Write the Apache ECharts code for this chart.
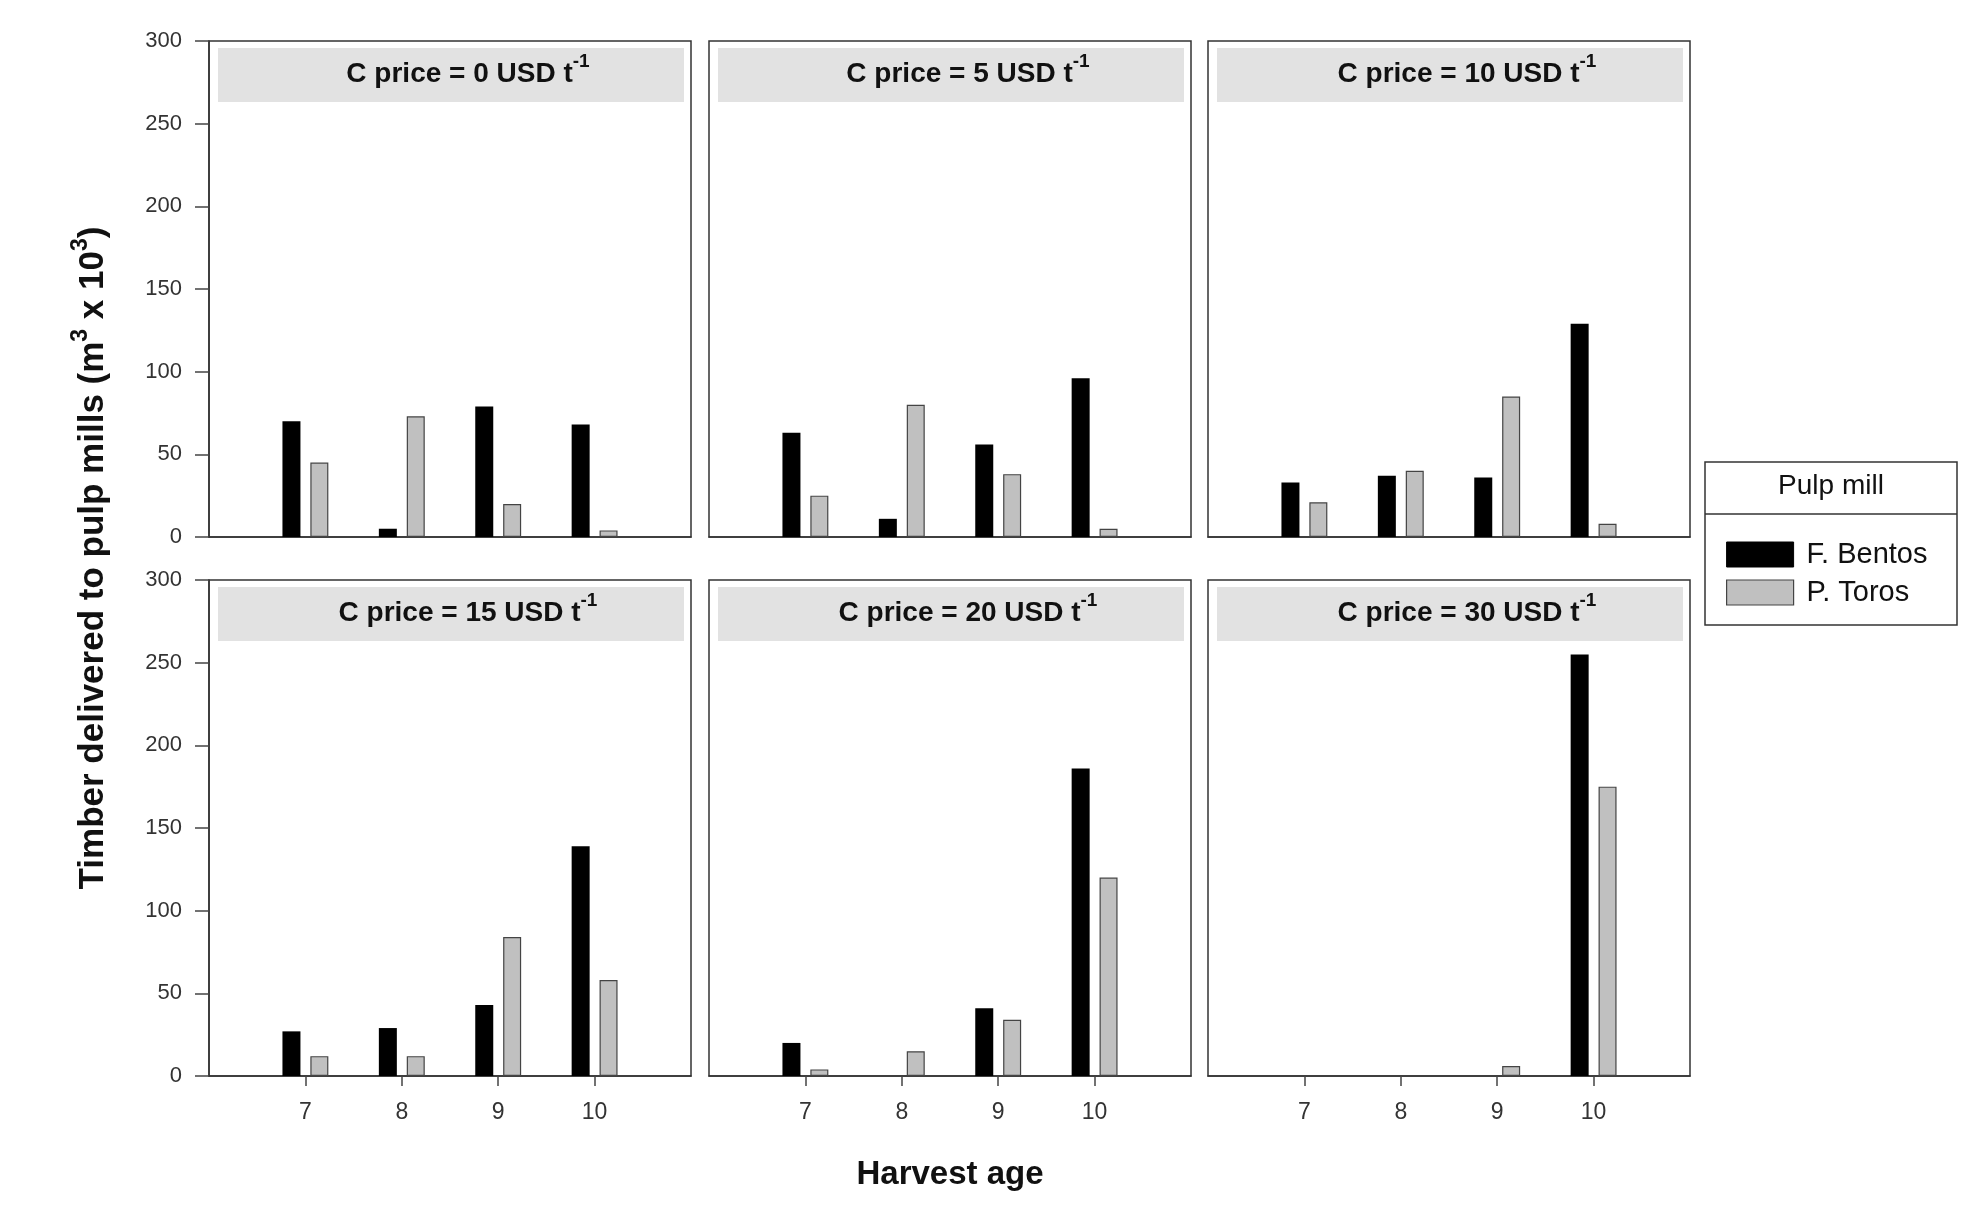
<!DOCTYPE html>
<html><head><meta charset="utf-8">
<script src="https://cdn.jsdelivr.net/npm/echarts@6/dist/echarts.min.js"></script>
<style>html,body{margin:0;padding:0;background:#fff}#c{width:1987px;height:1210px}</style>
</head><body><div id="c"></div>
<script>
// ---- data ----
const harvestAges = ['7', '8', '9', '10'];
const cPrices = [0, 5, 10, 15, 20, 30];
const seriesNames = ['F. Bentos', 'P. Toros'];
const yTicks = { min: 0, max: 300, step: 50 };

const bentos_C0  = [70, 5, 79, 68];
const toros_C0   = [45, 73, 20, 4];
const bentos_C5  = [63, 11, 56, 96];
const toros_C5   = [25, 80, 38, 5];
const bentos_C10 = [33, 37, 36, 129];
const toros_C10  = [21, 40, 85, 8];
const bentos_C15 = [27, 29, 43, 139];
const toros_C15  = [12, 12, 84, 58];
const bentos_C20 = [20, 0, 41, 186];
const toros_C20  = [4, 15, 34, 120];
const bentos_C30 = [0, 0, 0, 255];
const toros_C30  = [0, 0, 6, 175];

const bentosByPanel = [bentos_C0, bentos_C5, bentos_C10, bentos_C15, bentos_C20, bentos_C30];
const torosByPanel  = [toros_C0, toros_C5, toros_C10, toros_C15, toros_C20, toros_C30];

// ---- layout / style ----
const FONT = '"Liberation Sans", Arial, sans-serif';
const GRID_LEFTS = [209, 709, 1208];
const GRID_TOPS = [41, 580];
const GRID_W = 482, GRID_H = 496;
const COLORS = ['#000000', '#c0c0c0'];

const axisCats = [''].concat(harvestAges, ['']); // padding slots at both ends
// zero-height bars: drop the outline so nothing shows on the axis
const pad = arr => [null].concat(arr.map(v => v === 0 ? { value: 0, itemStyle: { borderWidth: 0, opacity: 0 } } : v), [null]);

const grids = [], xAxes = [], yAxes = [], series = [], graphics = [];

cPrices.forEach((price, i) => {
  const col = i % 3, row = Math.floor(i / 3);
  const L = GRID_LEFTS[col], T = GRID_TOPS[row];
  grids.push({ left: L, top: T, width: GRID_W, height: GRID_H, show: true,
    borderColor: '#333', borderWidth: 1.5, backgroundColor: 'transparent', containLabel: false });
  const showX = row === 1;
  xAxes.push({ type: 'category', gridIndex: i, data: axisCats, boundaryGap: false,
    axisLine: { show: true, lineStyle: { color: '#333', width: 1.5 } },
    axisTick: { show: showX, length: 10, inside: false, interval: (idx) => idx >= 1 && idx <= harvestAges.length,
      lineStyle: { color: '#444', width: 1.5 } },
    axisLabel: { show: showX, interval: (idx) => idx >= 1 && idx <= harvestAges.length, margin: 25,
      fontSize: 23, color: '#333', fontFamily: FONT },
    splitLine: { show: false } });
  const showY = col === 0;
  yAxes.push({ type: 'value', gridIndex: i, min: yTicks.min, max: yTicks.max, interval: yTicks.step,
    show: true,
    axisLine: { show: showY, lineStyle: { color: '#333', width: 1.5 } },
    axisTick: { show: showY, length: 14, inside: false, lineStyle: { color: '#444', width: 1.5 } },
    axisLabel: { show: showY, margin: 27, fontSize: 22, color: '#333', fontFamily: FONT },
    splitLine: { show: false } });
  series.push({ name: seriesNames[0], type: 'bar', xAxisIndex: i, yAxisIndex: i,
    data: pad(bentosByPanel[i]), barWidth: 18, barGap: '55%',
    itemStyle: { color: COLORS[0], borderColor: '#000', borderWidth: 0 }, z: 3 });
  series.push({ name: seriesNames[1], type: 'bar', xAxisIndex: i, yAxisIndex: i,
    data: pad(torosByPanel[i]), barWidth: 18, barGap: '55%',
    itemStyle: { color: COLORS[1], borderColor: '#444', borderWidth: 1.2 }, z: 3 });
  // strip header
  graphics.push({ type: 'rect', z: 1, shape: { x: L + 9, y: T + 7, width: GRID_W - 16, height: 54 },
    style: { fill: '#e2e2e2' } });
  graphics.push({ type: 'text', z: 5, x: L + GRID_W / 2 + 18, y: T + 33,
    style: { text: '{m|C price = ' + price + ' USD t}{s|-1}', align: 'center', verticalAlign: 'middle',
      rich: {
        m: { fontSize: 28, fontWeight: 'bold', fontFamily: FONT, fill: '#111', lineHeight: 44 },
        s: { fontSize: 19, fontWeight: 'bold', fontFamily: FONT, fill: '#111', lineHeight: 10, verticalAlign: 'top' }
      } } });
});

// axis titles
graphics.push({ type: 'text', z: 5, x: 93, y: 558, rotation: Math.PI / 2,
  style: { text: '{m|Timber delivered to pulp mills (m}{s|3}{m| x 10}{s|3}{m|)}', align: 'center', verticalAlign: 'middle',
    rich: {
      m: { fontSize: 35, fontWeight: 'bold', fontFamily: FONT, fill: '#111', lineHeight: 48 },
      s: { fontSize: 23, fontWeight: 'bold', fontFamily: FONT, fill: '#111', lineHeight: 14, verticalAlign: 'top' }
    } } });
graphics.push({ type: 'text', z: 5, x: 950, y: 1175,
  style: { text: 'Harvest age', align: 'center', verticalAlign: 'middle',
    font: 'bold 33px ' + FONT, fill: '#111' } });

// legend frame
graphics.push({ type: 'rect', z: 1, shape: { x: 1705, y: 462, width: 252, height: 163 },
  style: { fill: '#fff', stroke: '#333', lineWidth: 1.5 } });
graphics.push({ type: 'line', z: 2, shape: { x1: 1705, y1: 514, x2: 1957, y2: 514 },
  style: { stroke: '#333', lineWidth: 1.5 } });
graphics.push({ type: 'text', z: 5, x: 1831, y: 486,
  style: { text: 'Pulp mill', align: 'center', verticalAlign: 'middle', font: '28px ' + FONT, fill: '#111' } });

const chart = echarts.init(document.getElementById('c'), null, { renderer: 'canvas' });
chart.setOption({
  backgroundColor: '#fff',
  animation: false,
  grid: grids, xAxis: xAxes, yAxis: yAxes, series: series,
  legend: { show: true, orient: 'vertical', left: 1721, top: 535, itemWidth: 67, itemHeight: 25, itemGap: 9,
    selectedMode: false, icon: 'rect', z: 10,
    data: [
      { name: seriesNames[0], itemStyle: { color: COLORS[0], borderColor: '#000', borderWidth: 1 } },
      { name: seriesNames[1], itemStyle: { color: COLORS[1], borderColor: '#444', borderWidth: 1.2 } }
    ],
    textStyle: { fontSize: 29, color: '#111', fontFamily: FONT, padding: [0, 0, 0, 8] } },
  graphic: { elements: graphics }
});
</script></body></html>
